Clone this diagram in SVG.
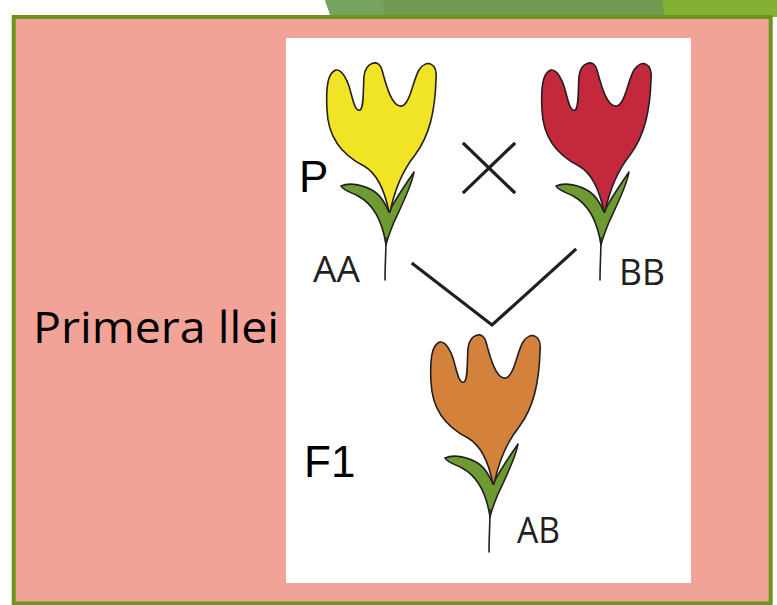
<svg xmlns="http://www.w3.org/2000/svg" xmlns:xlink="http://www.w3.org/1999/xlink" width="777" height="605" viewBox="0 0 777 605">
  <style>
    .outline { stroke: #231f20; stroke-width: 1.6; stroke-linejoin: round; }
    .stem { fill: none; stroke: #231f20; stroke-width: 1.6; stroke-linecap: round; }
    .leaf { fill: #6e9a32; }
    .geno { font-family: "Open Sans", "Noto Sans", sans-serif; font-size: 37px; fill: #231f20; }
    .gen { font-family: "Liberation Sans", Arial, sans-serif; font-size: 44px; fill: #000; }
    .link { fill: none; stroke: #231f20; stroke-width: 3.2; stroke-linecap: square; }
  </style>
  <defs>
    <!-- corolla outline, placed with translate() per plant -->
    <path id="petals" d="M 389,212 C 385,192 378,174 364,166 C 342,155 328,138 327,110 C 326,92 327,80 331,74 C 337,65 344,72 349,86 C 353,100 355,112 360,110 C 364,108 363,90 364,76 C 366,62 379,58 382,70 C 386,85 392,108 402,106 C 410,104 413,80 419,70 C 426,59 438,62 436,80 C 435,110 430,135 415,155 C 403,170 395,188 390,212 Z"/>
    <path id="leaves" d="M 386,245 C 383,225 375,205 358,196 C 350,192 343,190 341,186 C 350,182 365,185 375,192 C 382,197 386,205 389,212 C 395,200 405,185 414,172 C 412,185 402,205 394,222 C 390,232 387,240 386,245 Z"/>
    <path id="stalk" d="M 386,238 C 386,252 385,266 385,280"/>
  </defs>

  <!-- header bands -->
  <polygon points="325,0 777,0 777,17 331,17" fill="#6f9a4f"/>
  <polygon points="325,0 383,0 385,17 331,17" fill="#77a35c"/>
  <polygon points="662,0 777,0 777,17 665,17" fill="#83b134"/>

  <!-- slide panel -->
  <rect x="13.7" y="17" width="757" height="586.5" fill="#f2a398" stroke="#6b951d" stroke-width="4"/>

  <g id="title">
    <text x="33" y="343" font-family="'Open Sans', 'Noto Sans', sans-serif" font-size="44" fill="#000" textLength="246" lengthAdjust="spacingAndGlyphs">Primera llei</text>
  </g>

  <!-- figure card -->
  <rect x="286" y="38" width="405" height="545" fill="#ffffff"/>

  <g id="parent-yellow">
    <use xlink:href="#leaves" class="leaf outline"/>
    <use xlink:href="#petals" class="outline" fill="#f1e425"/>
    <use xlink:href="#stalk" class="stem"/>
    <text class="geno" x="313" y="282" textLength="47" lengthAdjust="spacingAndGlyphs">AA</text>
  </g>

  <g id="parent-red">
    <g transform="translate(215,0)">
      <use xlink:href="#leaves" class="leaf outline"/>
      <use xlink:href="#petals" class="outline" fill="#c4283c"/>
      <use xlink:href="#stalk" class="stem"/>
    </g>
    <text class="geno" x="619" y="285" textLength="46" lengthAdjust="spacingAndGlyphs">BB</text>
  </g>

  <g id="offspring-orange">
    <g transform="translate(104,272)">
      <use xlink:href="#leaves" class="leaf outline"/>
      <use xlink:href="#petals" class="outline" fill="#d4813b"/>
      <use xlink:href="#stalk" class="stem"/>
    </g>
    <text class="geno" x="517" y="543" textLength="43" lengthAdjust="spacingAndGlyphs">AB</text>
  </g>

  <g id="generation-labels">
    <text class="gen" x="299" y="192">P</text>
    <text class="gen" x="304" y="477">F1</text>
  </g>

  <g id="connectors">
    <!-- cross between parents -->
    <path class="link" d="M 464,144 L 514,192 M 514,144 L 464,192"/>
    <!-- descent to F1 -->
    <path class="link" d="M 413,264 L 492,325 L 575,250" stroke-linejoin="miter"/>
  </g>
</svg>
